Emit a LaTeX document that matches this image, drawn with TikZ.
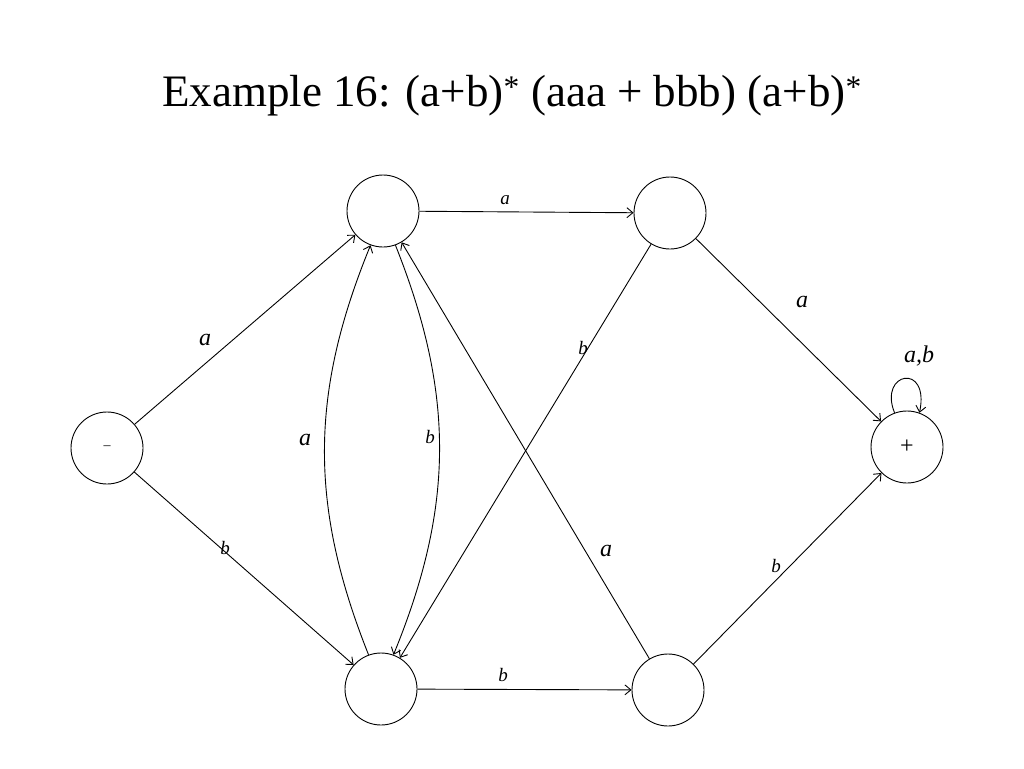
\documentclass[tikz,border=0pt]{standalone}
\usepackage{fontspec}
\setmainfont{Liberation Serif}
\usetikzlibrary{arrows.meta}
\begin{document}
\begin{tikzpicture}[x=1pt,y=-1pt,
  st/.style={circle,draw,line width=0.9pt,minimum size=72pt,inner sep=0pt},
  ed/.style={-{Straight Barb[length=6pt,width=10pt]},line width=0.9pt},
  lb/.style={font=\fontsize{24}{26}\selectfont\itshape},
  ls/.style={font=\fontsize{19}{21}\selectfont\itshape}]
\useasboundingbox (0,0) rectangle (1024,768);
\node (title) at (512,96) {\fontsize{45}{50}\selectfont Example 16: (a+b)\textsuperscript{*} (aaa + bbb) (a+b)\textsuperscript{*}};
\node[st] (m) at (107,448) {\fontsize{14}{16}\selectfont –};
\node[st] (tl) at (383,211) {};
\node[st] (tr) at (670,213) {};
\node[st] (bl) at (381,689) {};
\node[st] (br) at (668,690) {};
\node[st] (p) at (907,447) {\fontsize{24}{26}\selectfont +};
\draw[ed] (m) -- (tl);
\draw[ed] (m) -- (bl);
\draw[ed] (tl) -- (tr);
\draw[ed] (tr) -- (p);
\draw[ed] (tr) -- (bl);
\draw[ed] (br) -- (tl);
\draw[ed] (bl) -- (br);
\draw[ed] (br) -- (p);
\draw[ed] (bl.110) to[bend left=22] (tl.250);
\draw[ed] (tl.290) to[bend left=22] (bl.70);
\draw[ed] (p.110) .. controls (878,372) and (930,362) .. (p.70);
\node[lb] (l1) at (205,340) {a};
\node[ls] (l2) at (225,548) {b};
\node[ls] (l3) at (505,200) {a};
\node[lb] (l4) at (802,302) {a};
\node[ls] (l5) at (583,348) {b};
\node[lb] (l6) at (606,551) {a};
\node[ls] (l7) at (503,675) {b};
\node[ls] (l8) at (776,566) {b};
\node[lb] (l9) at (305,440) {a};
\node[ls] (l10) at (430,437) {b};
\node[lb] (l11) at (919,356) {a,b};
\end{tikzpicture}
\end{document}
